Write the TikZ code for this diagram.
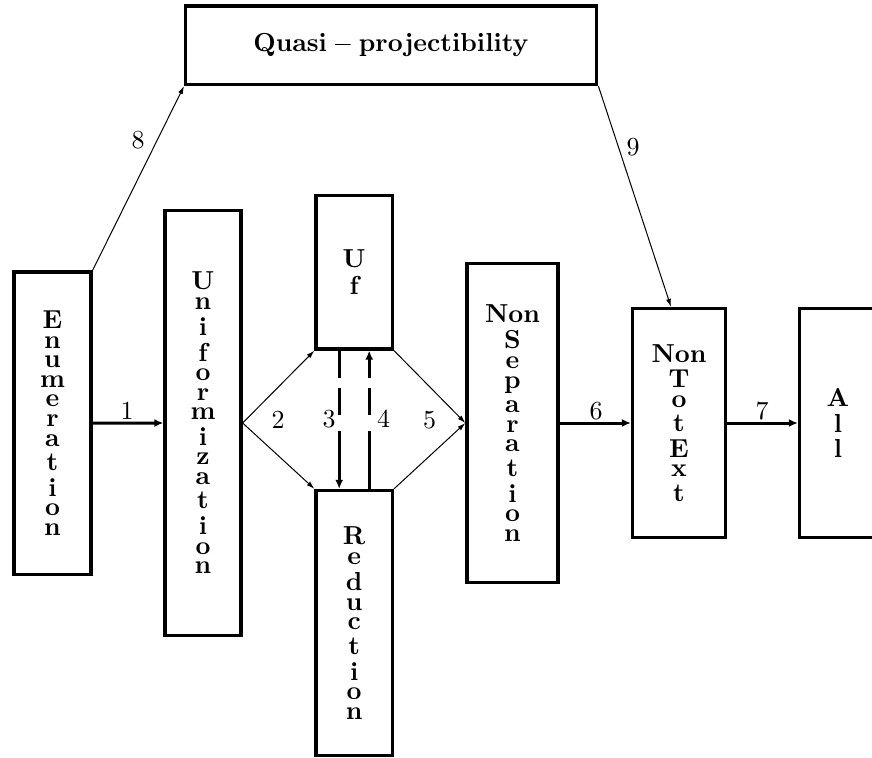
\documentclass[tikz,border=0pt]{standalone}
\usepackage{graphicx}
\usetikzlibrary{arrows.meta}

% 10pt type blown up to the size of the drawing
\newcommand{\bigtype}[1]{\scalebox{2.6}{#1}}
\newcommand{\vword}[1]{\bigtype{\bfseries\shortstack{#1}}}

\tikzset{
  stagebox/.style={draw, rectangle, line width=3.3pt, inner sep=0pt},
  thickarrow/.style={line width=3pt, -{Latex[length=9pt,width=8pt]}},
  thinarrow/.style={line width=1pt, -{Latex[length=8pt,width=5pt]}},
  numlabel/.style={inner sep=0pt},
}

\begin{document}
\begin{tikzpicture}[x=1pt,y=-1pt]
\useasboundingbox (0,0) rectangle (872,757);

% stages
\node[stagebox, minimum width=411pt, minimum height=78.3pt] (quasi) at (391.2,45.2)
  {\bigtype{$\mathbf{Quasi - projectibility}$}};
\node[stagebox, minimum width=77pt, minimum height=302.5pt] (enum) at (52.5,423.2)
  {\vword{E\\n\\u\\m\\e\\r\\a\\t\\i\\o\\n}};
\node[stagebox, minimum width=76pt, minimum height=425pt] (unif) at (203,423)
  {\vword{U\\n\\i\\f\\o\\r\\m\\i\\z\\a\\t\\i\\o\\n}};
\node[stagebox, minimum width=76.3pt, minimum height=153.5pt] (uf) at (354.2,272.2)
  {\vword{U\\f}};
\node[stagebox, minimum width=76.3pt, minimum height=265pt] (red) at (354.2,623)
  {\vword{R\\e\\d\\u\\c\\t\\i\\o\\n}};
\node[stagebox, minimum width=91pt, minimum height=319pt] (nonsep) at (512.5,423)
  {\vword{Non\\S\\e\\p\\a\\r\\a\\t\\i\\o\\n}};
\node[stagebox, minimum width=93pt, minimum height=229pt] (nte) at (679,423)
  {\vword{Non\\T\\o\\t\\E\\x\\t}};
\node[stagebox, minimum width=77pt, minimum height=229pt] (all) at (838,423)
  {\vword{A\\l\\l}};

% main chain
\draw[thickarrow] (enum.east) -- (unif.west);
\draw[thickarrow] (nonsep.east) -- (nte.west);
\draw[thickarrow] (nte.east) -- (all.west);

% branching through Uf and Reduction
\draw[thinarrow] (unif.east) -- (uf.south west);
\draw[thinarrow] (unif.east) -- (red.north west);
\draw[thinarrow] (uf.south east) -- (nonsep.west);
\draw[thinarrow] (red.north east) -- (nonsep.west);

% dashed links between Uf and Reduction
\draw[thickarrow, dash pattern=on 27.5pt off 10pt on 27pt off 16pt on 200pt]
  ([xshift=-15pt]uf.south) -- ([xshift=-15pt]red.north);
\draw[thickarrow, dash pattern=on 58pt off 16pt on 27pt off 10pt on 200pt]
  ([xshift=15pt]red.north) -- ([xshift=15pt]uf.south);

% detour through quasi-projectibility
\draw[thinarrow] (enum.north east) -- (quasi.south west);
\draw[thinarrow] (quasi.south east) -- ([xshift=-8pt]nte.north);

% edge numbers
\node[numlabel] (n1) at (127,411) {\bigtype{1}};
\node[numlabel] (n2) at (278,420) {\bigtype{2}};
\node[numlabel] (n3) at (329,419) {\bigtype{3}};
\node[numlabel] (n4) at (383.5,419) {\bigtype{4}};
\node[numlabel] (n5) at (429.5,420) {\bigtype{5}};
\node[numlabel] (n6) at (596,411) {\bigtype{6}};
\node[numlabel] (n7) at (762,411) {\bigtype{7}};
\node[numlabel] (n8) at (138,140) {\bigtype{8}};
\node[numlabel] (n9) at (633,147) {\bigtype{9}};
\end{tikzpicture}
\end{document}
